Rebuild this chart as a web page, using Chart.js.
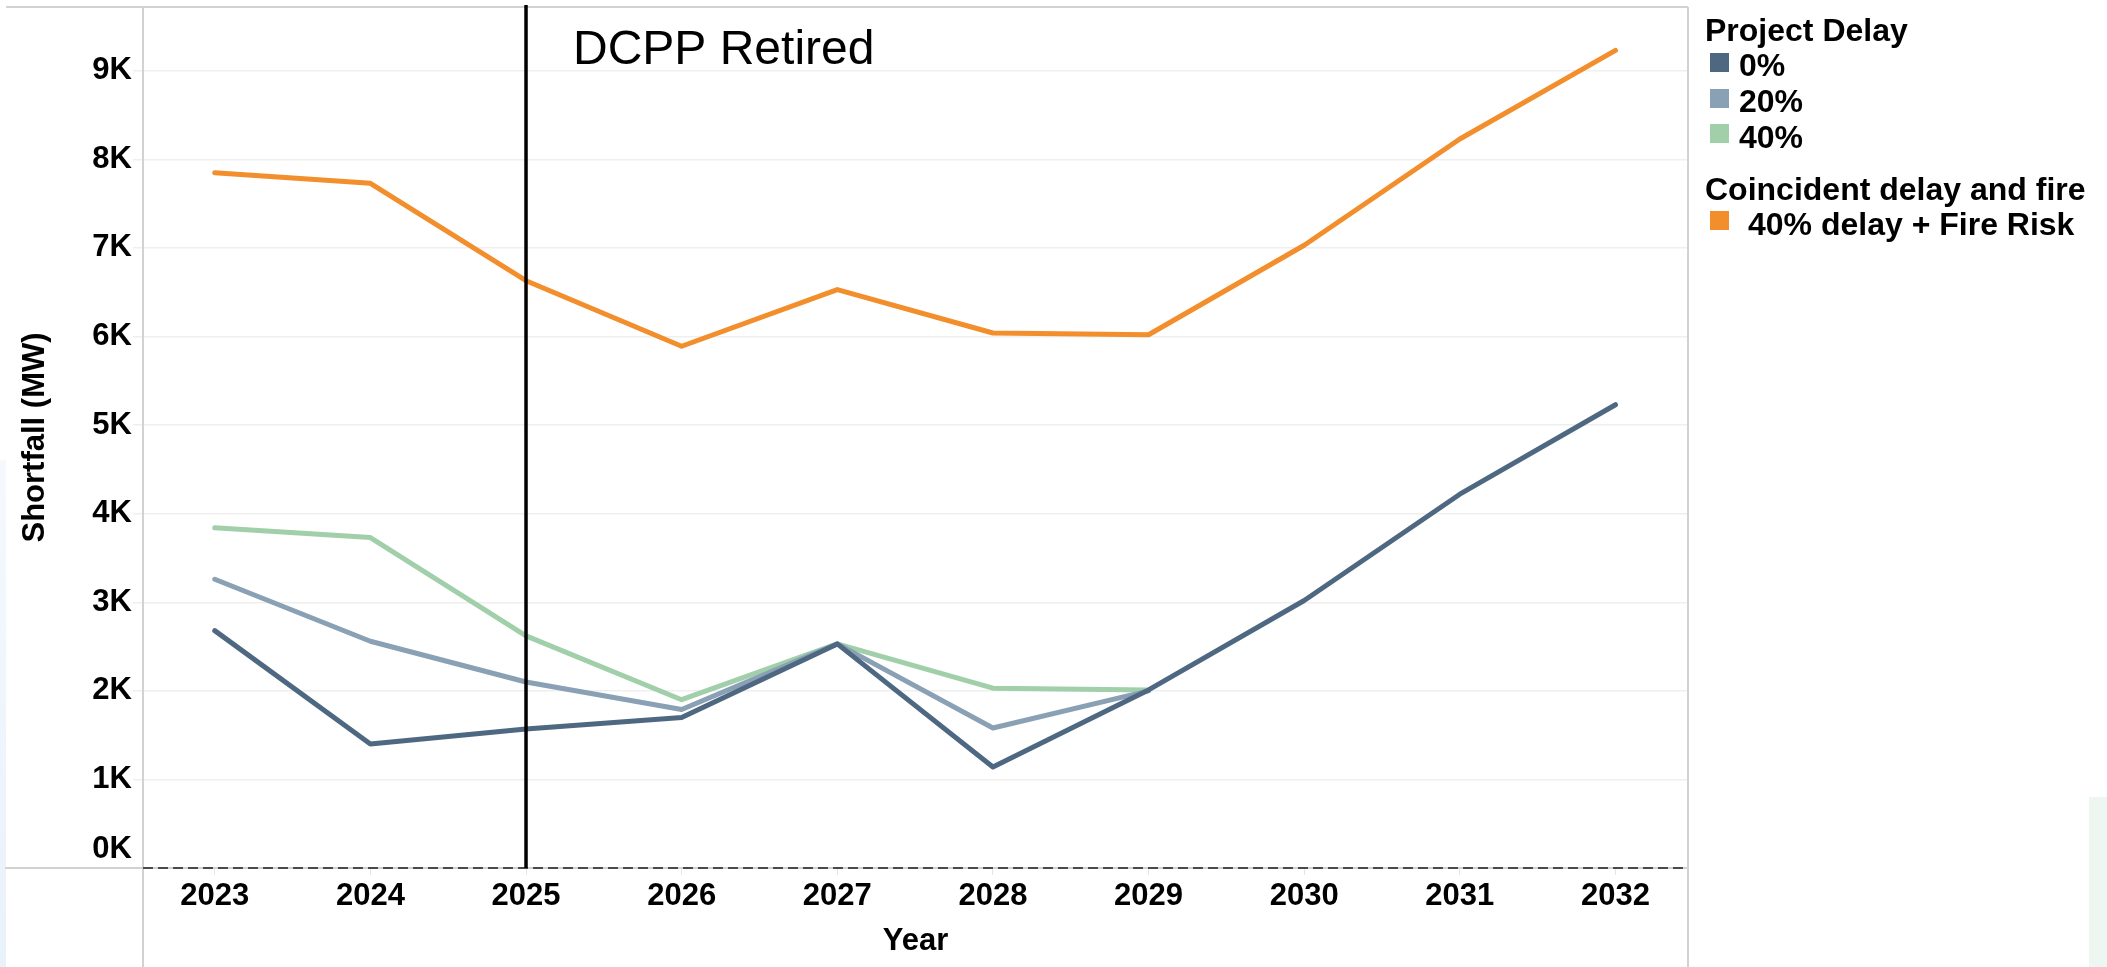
<!DOCTYPE html>
<html>
<head>
<meta charset="utf-8">
<script src="https://cdn.jsdelivr.net/npm/chart.js@4.4.1/dist/chart.umd.min.js"></script>
<style>
  html, body { margin: 0; padding: 0; background: #fff; overflow: hidden; }
  #wrap { position: relative; width: 2107px; height: 967px; }
  #leftStrip { position: absolute; left: 0; top: 460px; width: 6px; height: 507px; background: linear-gradient(#f5f9fd, #e9f1fa); }
  #cornerTint { position: absolute; left: 2089px; top: 797px; width: 18px; height: 170px; background: #eef6f1; }
  canvas { position: absolute; left: 0; top: 0; }
</style>
</head>
<body>
<div id="wrap">
  <div id="leftStrip"></div>
  <div id="cornerTint"></div>
  <canvas id="shortfall" width="2107" height="967"></canvas>
</div>
<script>
// values, in MW
var years = [2023, 2024, 2025, 2026, 2027, 2028, 2029, 2030, 2031, 2032];
var delay0 = [2680, 1400, 1570, 1700, 2530, 1140, 2010, 3020, 4220, 5230];
var delay20 = [3260, 2560, 2100, 1790, 2530, 1580, 2000];
var delay40 = [3840, 3730, 2620, 1900, 2530, 2030, 2010];
var delayFire = [7850, 7730, 6630, 5890, 6530, 6040, 6020, 7030, 8230, 9230];
var yTicks = [0, 1000, 2000, 3000, 4000, 5000, 6000, 7000, 8000, 9000];
var retiredYear = 2025;
var retiredLabel = "DCPP Retired";

var legendGroups = ["Project Delay", "Coincident delay and fire"];
var seriesLabels = ["0%", "20%", "40%", "40% delay + Fire Risk"];
var seriesColors = ["#4e6882", "#8aa0b4", "#a0cfaa", "#f28e2b"];

var FONT = "'Liberation Sans', Arial, sans-serif";

function pts(vals) {
  return vals.map(function (v, i) { return { x: years[i], y: v }; });
}

function lineSet(label, vals, color) {
  return {
    label: label,
    data: pts(vals),
    borderColor: color,
    backgroundColor: color,
    borderWidth: 5,
    pointRadius: 0,
    borderCapStyle: 'round',
    borderJoinStyle: 'round',
    tension: 0
  };
}

var decor = {
  id: 'decor',
  beforeDatasetsDraw: function (chart) {
    var ctx = chart.ctx, a = chart.chartArea;
    ctx.save();
    ctx.strokeStyle = '#d2d2d2';
    ctx.lineWidth = 2;
    ctx.beginPath();
    ctx.moveTo(6, a.top); ctx.lineTo(a.right, a.top);
    ctx.moveTo(5, a.bottom); ctx.lineTo(a.right, a.bottom);
    ctx.moveTo(a.left, a.top); ctx.lineTo(a.left, chart.height);
    ctx.moveTo(a.right, a.top); ctx.lineTo(a.right, chart.height);
    ctx.stroke();
    // dashed zero line
    var y0 = chart.scales.y.getPixelForValue(0);
    ctx.strokeStyle = '#4a4a4a';
    ctx.setLineDash([10, 5]);
    ctx.beginPath();
    ctx.moveTo(a.left, y0); ctx.lineTo(a.right, y0);
    ctx.stroke();
    ctx.restore();
  },
  afterDatasetsDraw: function (chart) {
    var ctx = chart.ctx, a = chart.chartArea;
    var x = chart.scales.x.getPixelForValue(retiredYear);
    ctx.save();
    ctx.strokeStyle = '#000';
    ctx.lineWidth = 3.5;
    ctx.beginPath();
    ctx.moveTo(x, 5); ctx.lineTo(x, a.bottom);
    ctx.stroke();
    ctx.fillStyle = '#000';
    ctx.font = '48px ' + FONT;
    ctx.textBaseline = 'alphabetic';
    ctx.fillText(retiredLabel, 573, 64);
    ctx.restore();
  },
  afterDraw: function (chart) {
    var ctx = chart.ctx;
    ctx.save();
    ctx.fillStyle = '#000';
    ctx.textBaseline = 'alphabetic';
    ctx.font = 'bold 32px ' + FONT;
    ctx.fillText(legendGroups[0], 1705, 41);
    ctx.fillText(legendGroups[1], 1705, 200);
    var rows = [
      { i: 0, sy: 53, ty: 76, tx: 1739 },
      { i: 1, sy: 89, ty: 112, tx: 1739 },
      { i: 2, sy: 124, ty: 148, tx: 1739 },
      { i: 3, sy: 211, ty: 235, tx: 1748 }
    ];
    rows.forEach(function (r) {
      ctx.fillStyle = seriesColors[r.i];
      ctx.fillRect(1710, r.sy, 19, 19);
      ctx.fillStyle = '#000';
      ctx.fillText(seriesLabels[r.i], r.tx, r.ty);
    });
    ctx.restore();
  }
};

var ctxL = document.getElementById("shortfall").getContext('2d');
var shortfallChart = new Chart(ctxL, {
  type: 'line',
  data: {
    datasets: [
      lineSet(seriesLabels[0], delay0, seriesColors[0]),
      lineSet(seriesLabels[1], delay20, seriesColors[1]),
      lineSet(seriesLabels[2], delay40, seriesColors[2]),
      lineSet(seriesLabels[3], delayFire, seriesColors[3])
    ]
  },
  options: {
    responsive: false,
    animation: false,
    events: [],
    layout: { padding: { top: 7, right: 419, left: 0, bottom: 0 } },
    plugins: { legend: { display: false }, tooltip: { enabled: false } },
    scales: {
      x: {
        type: 'linear',
        min: 2022.539,
        max: 2032.466,
        afterBuildTicks: function (s) { s.ticks = years.map(function (v) { return { value: v }; }); },
        afterFit: function (s) { s.height = 99; s.paddingLeft = 0; s.paddingRight = 0; },
        border: { display: false },
        grid: { drawOnChartArea: false, drawTicks: true, tickLength: 7, color: '#e6e6e6' },
        ticks: {
          padding: 3,
          maxRotation: 0,
          autoSkip: false,
          color: '#000',
          font: { family: FONT, size: 31, weight: 'bold' },
          callback: function (v) { return String(v); }
        },
        title: {
          display: true,
          text: 'Year',
          color: '#000',
          font: { family: FONT, size: 31, weight: 'bold' },
          padding: { top: 0, bottom: 7 }
        }
      },
      y: {
        min: 0,
        max: 9720,
        afterBuildTicks: function (s) { s.ticks = yTicks.map(function (v) { return { value: v }; }); },
        afterFit: function (s) { s.width = 143; s.paddingTop = 0; s.paddingBottom = 0; },
        border: { display: false },
        grid: {
          lineWidth: 1.5,
          tickLength: 10,
          color: function (c) { return c.tick && c.tick.value === 0 ? 'rgba(0,0,0,0)' : '#efefef'; }
        },
        ticks: {
          padding: 1,
          color: '#000',
          font: { family: FONT, size: 31, weight: 'bold' },
          callback: function (v) { return v === 0 ? ['0K', ''] : (v / 1000) + 'K'; }
        },
        title: {
          display: true,
          text: 'Shortfall (MW)',
          color: '#000',
          font: { family: FONT, size: 31, weight: 'bold' },
          padding: { top: 17, bottom: 0 }
        }
      }
    }
  },
  plugins: [decor]
});
</script>
</body>
</html>
